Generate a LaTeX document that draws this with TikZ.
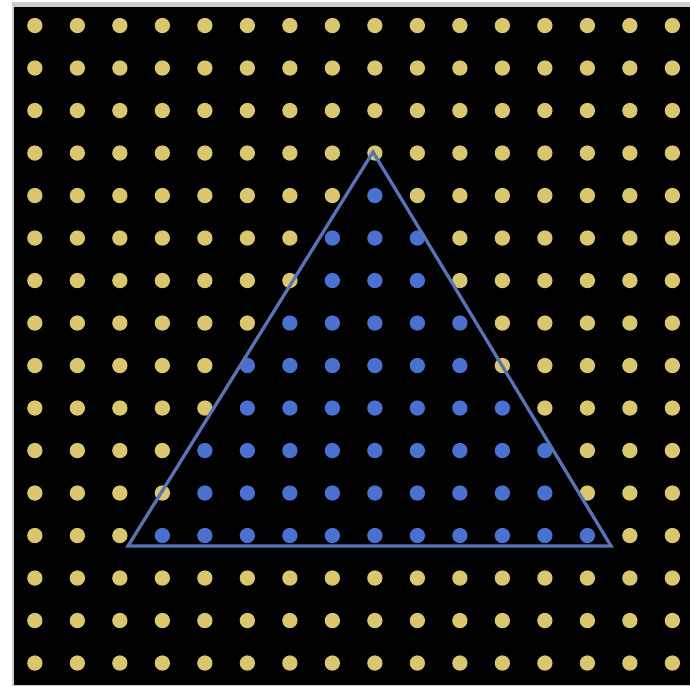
\documentclass[tikz,border=0pt]{standalone}
\definecolor{dotyellow}{RGB}{217,199,112}
\definecolor{dotblue}{RGB}{74,112,208}
\definecolor{edgeblue}{RGB}{88,116,182}
\begin{document}
\begin{tikzpicture}[dot/.style={fill=#1}, edge/.style={edgeblue,line width=2.2pt}]
  \useasboundingbox (0,0) rectangle (16.235,16.141);
  \fill[gray!40] (0.282,0) rectangle (16.235,16.094);
  \fill[black] (0.318,0.024) rectangle (16.235,15.976);
  % row j: columns \a..\b lie inside the triangle
  \foreach \j/\a/\b in {0/99/-1,1/99/-1,2/99/-1,3/3/13,4/4/12,5/4/12,6/5/11,7/5/10,
                        8/6/10,9/7/9,10/7/9,11/8/8,12/99/-1,13/99/-1,14/99/-1,15/99/-1}
    \foreach \i in {0,...,15} {
      \pgfmathtruncatemacro\inside{and(\i>=\a,\i<=\b)}
      \ifnum\inside=1 \def\dotcol{dotblue}\else\def\dotcol{dotyellow}\fi
      \fill[dot=\dotcol] (0.82+\i,0.54+\j) circle (0.18);
    }
  \coordinate (top) at (8.776,12.565);
  \coordinate (left) at (3.012,3.294);
  \coordinate (right) at (14.376,3.294);
  \draw[edge] (top) -- (left) -- (right) -- cycle;
\end{tikzpicture}
\end{document}
